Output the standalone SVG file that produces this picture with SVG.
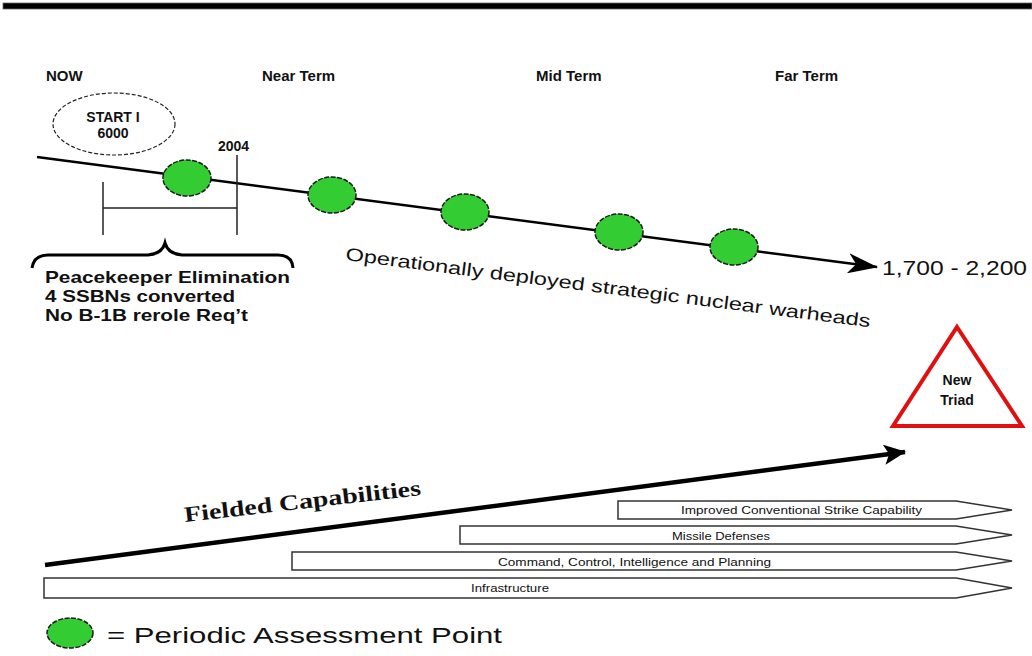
<svg xmlns="http://www.w3.org/2000/svg" width="1032" height="656" viewBox="0 0 1032 656">
  <style>
    .hdr { font-family: "Liberation Sans", Arial, sans-serif; font-weight: bold; font-size: 15px; fill: #111; }
    .lbl { font-family: "Liberation Sans", Arial, sans-serif; font-weight: bold; fill: #111; }
    .reg { font-family: "Liberation Sans", Arial, sans-serif; fill: #111; }
    .pt { fill: #33cc33; stroke: #1a1a1a; stroke-width: 1.5; stroke-dasharray: 5 1.5; }
    .bar { fill: #fff; stroke: #333; stroke-width: 1.5; }
    .bartxt { font-family: "Liberation Sans", Arial, sans-serif; font-size: 10.5px; fill: #111; text-anchor: start; }
    .thin { stroke: #222; stroke-width: 1.5; fill: none; }
  </style>
  <defs>
    <marker id="headMain" viewBox="0 0 30 20" markerWidth="30" markerHeight="20" refX="29" refY="10" orient="auto" markerUnits="userSpaceOnUse">
      <path d="M0,0 L30,10 L0,20 L8,10 Z" fill="#000"/>
    </marker>
    <marker id="headField" viewBox="0 0 22 20" markerWidth="22" markerHeight="20" refX="21" refY="10" orient="auto" markerUnits="userSpaceOnUse">
      <path d="M0,0 L22,10 L0,20 L5,10 Z" fill="#000"/>
    </marker>
  </defs>

  <rect width="1032" height="656" fill="#fff"/>

  <!-- top rule -->
  <rect id="topRule" x="3" y="3" width="1029" height="6" fill="#000" stroke="#666" stroke-width="0.8"/>

  <!-- column headers -->
  <g id="headers">
    <text class="hdr" x="46" y="81">NOW</text>
    <text class="hdr" x="262" y="81">Near Term</text>
    <text class="hdr" x="536" y="81">Mid Term</text>
    <text class="hdr" x="775" y="81">Far Term</text>
  </g>

  <!-- connectors -->
  <g id="connectors">
    <line id="mainLine" x1="37" y1="157" x2="877" y2="267" stroke="#000" stroke-width="2.5" marker-end="url(#headMain)"/>
    <line id="fieldedLine" x1="45" y1="565" x2="905" y2="452" stroke="#000" stroke-width="4.5" marker-end="url(#headField)"/>
  </g>

  <!-- START I -->
  <g id="start1">
    <ellipse cx="114" cy="124" rx="61" ry="31" fill="#fff" stroke="#222" stroke-width="1.2" stroke-dasharray="4 2"/>
    <text class="lbl" x="113" y="122" font-size="14" text-anchor="middle">START I</text>
    <text class="lbl" x="113" y="138" font-size="14" text-anchor="middle">6000</text>
  </g>

  <!-- 2004 span bracket -->
  <g id="span2004">
    <line class="thin" x1="237" y1="155" x2="237" y2="235"/>
    <line class="thin" x1="103" y1="182" x2="103" y2="235"/>
    <line class="thin" x1="103" y1="208" x2="237" y2="208"/>
    <text class="lbl" x="218" y="151" font-size="14">2004</text>
  </g>

  <!-- assessment points -->
  <g id="point1"><ellipse class="pt" cx="187" cy="178" rx="24" ry="18"/></g>
  <g id="point2"><ellipse class="pt" cx="332" cy="195" rx="24" ry="18"/></g>
  <g id="point3"><ellipse class="pt" cx="465" cy="212" rx="24" ry="18"/></g>
  <g id="point4"><ellipse class="pt" cx="619" cy="232" rx="24" ry="18"/></g>
  <g id="point5"><ellipse class="pt" cx="734" cy="247" rx="24" ry="18"/></g>

  <!-- brace + notes -->
  <g id="notes">
    <path d="M32,268 Q34,255 48,255 L148,255 Q162,254 165,243 Q168,254 182,255 L278,255 Q292,255 293,268" fill="none" stroke="#000" stroke-width="3"/>
    <text class="lbl" x="45" y="283" font-size="16.5" textLength="245" lengthAdjust="spacingAndGlyphs">Peacekeeper Elimination</text>
    <text class="lbl" x="45" y="302" font-size="16.5" textLength="190" lengthAdjust="spacingAndGlyphs">4 SSBNs converted</text>
    <text class="lbl" x="45" y="321" font-size="16.5" textLength="203" lengthAdjust="spacingAndGlyphs">No B-1B rerole Req’t</text>
  </g>

  <!-- line label -->
  <g id="lineLabel">
    <text class="reg" font-size="18" transform="translate(345,260) rotate(7.3)" textLength="529" lengthAdjust="spacingAndGlyphs">Operationally deployed strategic nuclear warheads</text>
  </g>

  <!-- result -->
  <g id="result">
    <text class="reg" x="882" y="275" font-size="21" textLength="145" lengthAdjust="spacingAndGlyphs">1,700 - 2,200</text>
  </g>

  <!-- New Triad -->
  <g id="newTriad">
    <polygon points="957,327 1022,426 893,426" fill="#fff" stroke="#e01010" stroke-width="4" stroke-linejoin="miter"/>
    <text class="lbl" x="957" y="385" font-size="14" text-anchor="middle">New</text>
    <text class="lbl" x="957" y="405" font-size="14" text-anchor="middle">Triad</text>
  </g>

  <!-- Fielded capabilities label -->
  <g id="fieldedLabel">
    <text transform="translate(185,522) rotate(-6.5)" font-family="'Liberation Serif', 'Times New Roman', serif" font-weight="bold" font-size="22" fill="#111" textLength="238" lengthAdjust="spacingAndGlyphs">Fielded Capabilities</text>
  </g>

  <!-- capability bars -->
  <g id="barStrike">
    <polygon class="bar" points="618,501 956,501 1012,510 956,519 618,519"/>
    <text class="bartxt" x="681" y="514" textLength="241" lengthAdjust="spacingAndGlyphs">Improved Conventional Strike Capability</text>
  </g>
  <g id="barMissile">
    <polygon class="bar" points="460,526 956,526 1012,535 956,544 460,544"/>
    <text class="bartxt" x="672" y="540" textLength="98" lengthAdjust="spacingAndGlyphs">Missile Defenses</text>
  </g>
  <g id="barC2">
    <polygon class="bar" points="292,552 956,552 1012,561 956,570 292,570"/>
    <text class="bartxt" x="498" y="566" textLength="273" lengthAdjust="spacingAndGlyphs">Command, Control, Intelligence and Planning</text>
  </g>
  <g id="barInfra">
    <polygon class="bar" points="44,578 956,578 1012,588 956,598 44,598"/>
    <text class="bartxt" x="471" y="592" textLength="78" lengthAdjust="spacingAndGlyphs">Infrastructure</text>
  </g>

  <!-- legend -->
  <g id="legend">
    <ellipse class="pt" cx="70" cy="633" rx="23" ry="15"/>
    <text class="reg" x="107" y="643" font-size="22" textLength="395" lengthAdjust="spacingAndGlyphs">= Periodic Assessment Point</text>
  </g>
</svg>
